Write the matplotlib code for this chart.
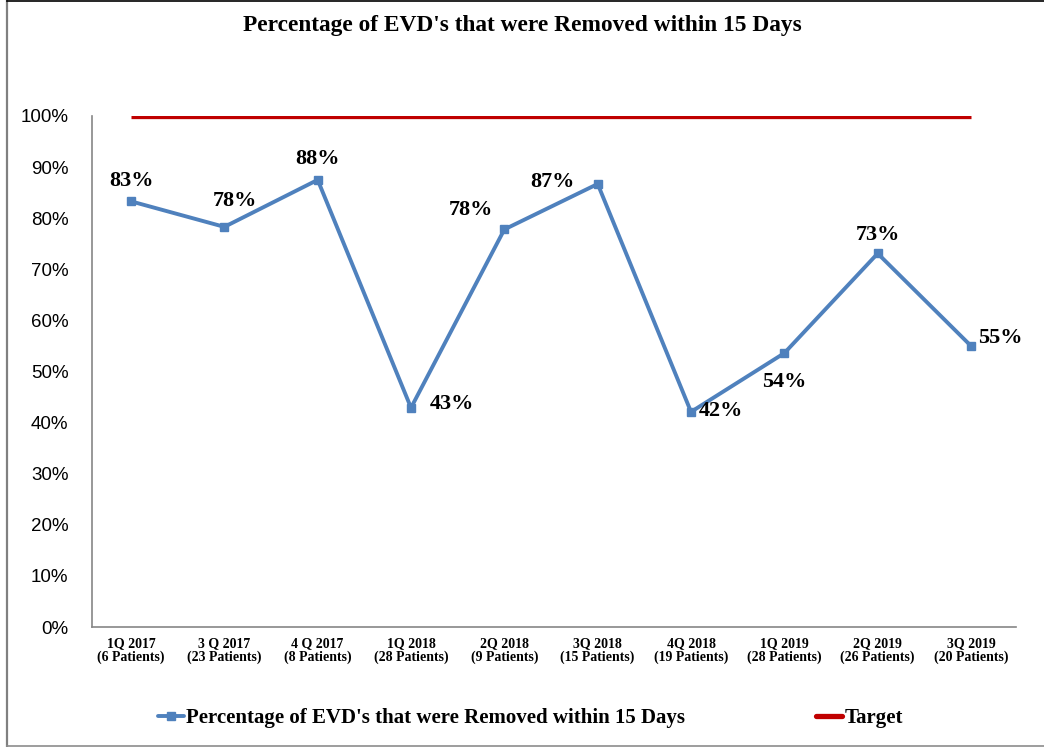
import matplotlib
matplotlib.use("Agg")
import matplotlib.pyplot as plt
from matplotlib.lines import Line2D
from matplotlib.ticker import FuncFormatter, MultipleLocator

categories = ["1Q 2017\n(6 Patients)", "3 Q 2017\n(23 Patients)", "4 Q 2017\n(8 Patients)",
              "1Q 2018\n(28 Patients)", "2Q 2018\n(9 Patients)", "3Q 2018\n(15 Patients)",
              "4Q 2018\n(19 Patients)", "1Q 2019\n(28 Patients)", "2Q 2019\n(26 Patients)",
              "3Q 2019\n(20 Patients)"]
removed_pct = [83.3, 78.3, 87.5, 42.9, 77.8, 86.7, 42.1, 53.6, 73.1, 55.0]
target_pct = [100] * 10
label_text = ["83%", "78%", "88%", "43%", "78%", "87%", "42%", "54%", "73%", "55%"]
label_offsets = [(0, 20), (11, 26), (0, 21), (41, 4), (-33, 19), (-45, 2), (30, 1), (0, -29), (0, 18), (29, 8)]

serif = "Liberation Serif"
W, H = 1044, 747

fig = plt.figure(figsize=(W / 100, H / 100), dpi=100)
# figure frame (left, top, bottom)
fig.add_artist(Line2D([6.5 / W, 6.5 / W], [0, 1], transform=fig.transFigure, color="#808080", linewidth=1.6))
fig.add_artist(Line2D([6.5 / W, 1], [1 - 745.5 / H, 1 - 745.5 / H], transform=fig.transFigure, color="#8c8c8c", linewidth=1.2))
fig.add_artist(Line2D([6.5 / W, 1], [1 - 0.5 / H, 1 - 0.5 / H], transform=fig.transFigure, color="#000000", linewidth=1.2))

ax = fig.add_axes([92 / W, 1 - 627 / H, (1016 - 92) / W, (627 - 116) / H])

x = list(range(len(categories)))
ax.plot(x, target_pct, color="#C00000", linewidth=3.8, label="Target", zorder=2, solid_capstyle="butt")
ax.plot(x, removed_pct, color="#4F81BD", linewidth=2.8, marker="s", markersize=6,
        label="Percentage of EVD's that were Removed within 15 Days", zorder=3)

for xi, yi, t, (dx, dy) in zip(x, removed_pct, label_text, label_offsets):
    ax.annotate(t, (xi, yi), xytext=(dx, dy), textcoords="offset pixels",
                ha="center", va="center", fontsize=16, fontweight="bold", family=serif)

ax.set_xlim(-0.418, 9.482)
ax.set_ylim(0, 100)
ax.yaxis.set_major_locator(MultipleLocator(10))
ax.yaxis.set_major_formatter(FuncFormatter(lambda v, p: f"{int(v)}%"))
ax.set_xticks(x)
ax.set_xticklabels(categories, fontsize=10, fontweight="bold", family=serif, linespacing=1.05)
for lab in ax.get_yticklabels():
    lab.set_family("Liberation Sans")
    lab.set_fontsize(13.5)
ax.tick_params(axis="y", length=0, pad=17)
ax.tick_params(axis="x", length=0, pad=7)
for s in ["top", "right"]:
    ax.spines[s].set_visible(False)
for s in ["left", "bottom"]:
    ax.spines[s].set_color("#868686")
    ax.spines[s].set_linewidth(1.2)

fig.text(0.5, 1 - 25 / H, "Percentage of EVD's that were Removed within 15 Days", ha="center", va="center",
         fontsize=16.8, fontweight="bold", family=serif)

h, l = ax.get_legend_handles_labels()
leg = fig.legend(h[::-1], l[::-1], loc="center", bbox_to_anchor=(0.508, 1 - 718 / H), ncol=2, frameon=False,
                 prop={"family": serif, "weight": "bold", "size": 15}, handlelength=1.25,
                 handletextpad=0.1, columnspacing=6.3)
for lh in leg.get_lines():
    lh.set_solid_capstyle("round")

fig.savefig("out.png", dpi=100)
